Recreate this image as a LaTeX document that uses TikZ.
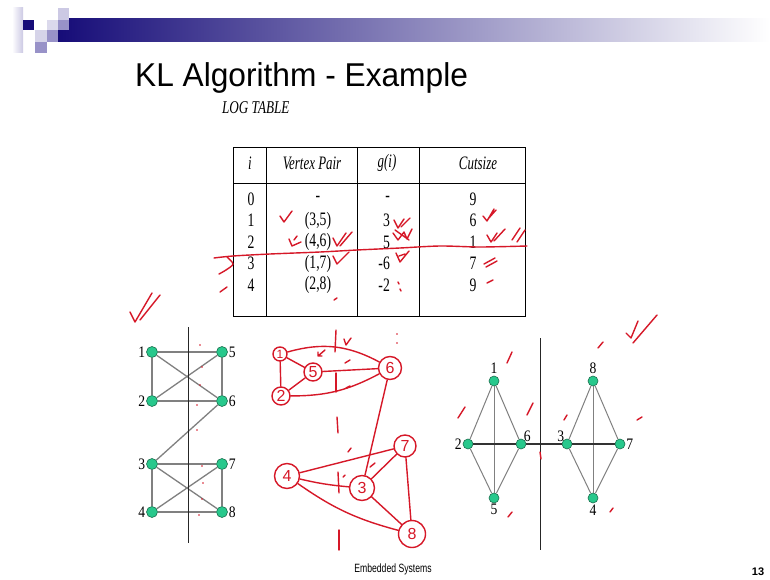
\documentclass[tikz,border=0pt]{standalone}
\usepackage{fontspec}
\setmainfont{Liberation Serif}
\setsansfont{Liberation Sans}
\usetikzlibrary{positioning,calc}
\definecolor{barnavy}{RGB}{22,12,120}
\definecolor{lilac}{RGB}{204,201,228}
\definecolor{mauve}{RGB}{152,146,200}
\definecolor{mint}{RGB}{40,200,140}
\definecolor{pine}{RGB}{28,112,78}
\definecolor{ink}{RGB}{214,24,40}
\definecolor{edgegray}{RGB}{128,128,128}

\tikzset{
  vtx/.style={circle,fill=mint,draw=pine,line width=0.6pt,minimum size=11pt,inner sep=0pt},
  vlab/.style={font=\fontsize{16}{16}\selectfont,xscale=.85,inner sep=1pt},
  gedge/.style={edgegray,line width=1.3pt},
  cutline/.style={black!85,line width=0.9pt},
  pen/.style={ink,line width=1.4pt,line cap=round,line join=round},
  hvtx/.style={circle,draw=ink,line width=1.4pt,text=ink,inner sep=0pt,
    font=\fontsize{16}{16}\selectfont\sffamily},
  cell/.style={font=\fontsize{19}{19}\selectfont,xscale=.72,inner sep=0pt},
  head/.style={font=\fontsize{19}{19}\selectfont\itshape,xscale=.68,inner sep=0pt},
}

\begin{document}
\begin{tikzpicture}[x=1pt,y=-1pt]
  \useasboundingbox (0,0) rectangle (770,580);
  \fill[white] (0,0) rectangle (770,580);

  % slide header
  \shade[left color=barnavy,middle color=barnavy!28,right color=white] (58,19) rectangle (770,42);
  \shade[left color=white,right color=lilac] (12,8) rectangle (23,53);
  \fill[barnavy] (23,20) rectangle (34,30);
  \fill[lilac] (58,8) rectangle (69,20);
  \fill[lilac!70] (47,20) rectangle (58,30);
  \fill[mauve] (58,20) rectangle (69,30);
  \fill[lilac!80] (35,30) rectangle (47,42);
  \fill[mauve] (47,30) rectangle (58,42);
  \fill[mauve] (35,42) rectangle (47,53);

  \node[anchor=base west,font=\fontsize{33}{33}\selectfont\sffamily,xscale=.96,inner sep=0pt]
    (title) at (135,87) {KL Algorithm - Example};
  \node[anchor=base west,font=\fontsize{18}{18}\selectfont\itshape,xscale=.73,inner sep=0pt]
    (logtab) at (222,114) {LOG TABLE};

  % log table
  \draw[line width=1pt] (233,148) rectangle (525,316);
  \draw[line width=1pt] (233,183) -- (525,183);
  \draw[line width=1pt] (266,148) -- (266,316);
  \draw[line width=1pt] (357,148) -- (357,316);
  \draw[line width=1pt] (419,148) -- (419,316);
  \node[head] (hi) at (250,163) {i};
  \node[head] (hpair) at (312,163) {Vertex Pair};
  \node[head] (hgain) at (387,163) {g(i)};
  \node[head] (hcut) at (478,163) {Cutsize};
  \foreach \r/\pair/\gain/\cut [count=\k from 0] in {0/-/-/9, 1/{(3,5)}/3/6, 2/{(4,6)}/5/1, 3/{(1,7)}/-6/7, 4/{(2,8)}/-2/9}{
    \node[cell] (idx\k) at (251,199+21.5*\k) {\r};
    \node[cell] (pair\k) at (318,199+21.5*\k) {\pair};
    \node[cell,anchor=east] (gain\k) at (390,199+21.5*\k) {\gain};
    \node[cell] (cut\k) at (473,199+21.5*\k) {\cut};
  }

  % initial partition
  \node[vtx] (l1) at (152,352) {};
  \node[vtx] (l5) at (222,352) {};
  \node[vtx] (l2) at (152,401) {};
  \node[vtx] (l6) at (222,401) {};
  \node[vtx] (l3) at (152,464) {};
  \node[vtx] (l7) at (222,464) {};
  \node[vtx] (l4) at (152,512) {};
  \node[vtx] (l8) at (222,512) {};
  \foreach \v in {1,2,3,4} \node[vlab,left=0pt of l\v] (l\v lab) {\v};
  \foreach \v in {5,6,7,8} \node[vlab,right=0pt of l\v] (l\v lab) {\v};
  \draw[gedge] (l1) -- (l5);
  \draw[gedge] (l1) -- (l2);
  \draw[gedge] (l5) -- (l6);
  \draw[gedge] (l2) -- (l6);
  \draw[gedge] (l1) -- (l6);
  \draw[gedge] (l2) -- (l5);
  \draw[gedge] (l6) -- (l3);
  \draw[gedge] (l3) -- (l7);
  \draw[gedge] (l3) -- (l4);
  \draw[gedge] (l7) -- (l8);
  \draw[gedge] (l4) -- (l8);
  \draw[gedge] (l3) -- (l8);
  \draw[gedge] (l4) -- (l7);
  \draw[cutline] (188,327) -- (188,543);
  \foreach \p in {(200,345),(202,367),(200,385),(197,405),(197,430),(202,466),(203,483),(202,499),(199,515)}
    \fill[ink] \p circle (0.9pt);

  % hand drawn graph
  \node[hvtx,minimum size=14pt,font=\fontsize{12}{12}\selectfont\sffamily] (h1) at (280,354) {1};
  \node[hvtx,minimum size=18pt] (h5) at (313,372) {5};
  \node[hvtx,minimum size=18pt] (h2) at (281,396) {2};
  \node[hvtx,minimum size=23pt] (h6) at (390,368) {6};
  \node[hvtx,minimum size=25pt] (h4) at (287,476) {4};
  \node[hvtx,minimum size=22pt] (h7) at (405,446) {7};
  \node[hvtx,minimum size=25pt] (h3) at (362,488) {3};
  \node[hvtx,minimum size=27pt] (h8) at (412,534) {8};
  \draw[pen] (h1) to[bend left=22] (h6);
  \draw[pen] (h1) -- (h5);
  \draw[pen] (h1) -- (h2);
  \draw[pen] (h2) -- (h5);
  \draw[pen] (h5) -- (h6);
  \draw[pen] (h2) to[bend right=14] (h6);
  \draw[pen] (h6) -- (h3);
  \draw[pen] (h4) -- (h7);
  \draw[pen] (h4) to[bend right=4] (h3);
  \draw[pen] (h4) to[bend right=10] (h8);
  \draw[pen] (h3) -- (h7);
  \draw[pen] (h7) -- (h8);
  \draw[pen] (h3) -- (h8);
  \draw[pen] (336,330) -- (335,352);
  \draw[pen] (336,373) -- (336,392);
  \draw[pen] (337,417) -- (338,433);
  \draw[pen] (338,472) -- (339,493);
  \draw[pen] (339,530) -- (339,550);
  \draw[pen] (344,339) -- (346,345) -- (351,338);
  \draw[pen] (325,350) -- (318,356) (318,356) -- (318,352) (318,356) -- (322,356);
  \draw[pen] (345,363) -- (350,360);
  \draw[pen] (346,388) -- (350,386);
  \draw[pen] (348,452) -- (351,448);
  \draw[pen] (343,477) -- (345,475);
  \draw[pen] (370,467) -- (375,463);
  \fill[ink] (397,334) circle (0.9pt) (397,343) circle (0.9pt);

  % final partition
  \node[vtx,minimum size=10pt] (r1) at (494,381) {};
  \node[vtx,minimum size=10pt] (r2) at (468,444) {};
  \node[vtx,minimum size=10pt] (r6) at (521,444) {};
  \node[vtx,minimum size=10pt] (r5) at (494,498) {};
  \node[vtx,minimum size=10pt] (r8) at (593,381) {};
  \node[vtx,minimum size=10pt] (r3) at (567,444) {};
  \node[vtx,minimum size=10pt] (r7) at (620,444) {};
  \node[vtx,minimum size=10pt] (r4) at (593,498) {};
  \node[vlab,above=1pt of r1] (r1lab) {1};
  \node[vlab,left=0pt of r2] (r2lab) {2};
  \node[vlab,above right=-3pt and -2pt of r6] (r6lab) {6};
  \node[vlab,below=0pt of r5] (r5lab) {5};
  \node[vlab,above=1pt of r8] (r8lab) {8};
  \node[vlab,above left=-3pt and -2pt of r3] (r3lab) {3};
  \node[vlab,right=0pt of r7] (r7lab) {7};
  \node[vlab,below=0pt of r4] (r4lab) {4};
  \draw[gedge,line width=1pt] (r1) -- (r2);
  \draw[gedge,line width=1pt] (r1) -- (r6);
  \draw[gedge,line width=1pt] (r1) -- (r5);
  \draw[gedge,line width=1pt] (r2) -- (r5);
  \draw[gedge,line width=1pt] (r6) -- (r5);
  \draw[gedge,line width=1pt] (r8) -- (r3);
  \draw[gedge,line width=1pt] (r8) -- (r7);
  \draw[gedge,line width=1pt] (r8) -- (r4);
  \draw[gedge,line width=1pt] (r3) -- (r4);
  \draw[gedge,line width=1pt] (r7) -- (r4);
  \draw[black!80,line width=1.1pt] (r2) -- (r6);
  \draw[black!80,line width=1.1pt] (r6) -- (r3);
  \draw[black!80,line width=1.1pt] (r3) -- (r7);
  \draw[cutline] (540,338) -- (540,550);
  \draw[pen] (507,363) -- (512,352);
  \draw[pen] (458,418) -- (465,407);
  \draw[pen] (527,415) -- (533,403);
  \draw[pen] (564,420) -- (567,415);
  \draw[pen] (637,420) -- (642,417);
  \draw[pen] (540,452) -- (541,459);
  \draw[pen] (508,517) -- (512,512);
  \draw[pen] (610,512) -- (613,508);
  \draw[pen] (598,348) -- (603,342);

  % marks on the log table
  \draw[pen] plot[smooth] coordinates {(214,258) (233,256) (270,254) (320,252) (357,250) (400,248) (440,246) (480,247) (527,246)};
  \draw[pen] plot[smooth] coordinates {(227,257) (233,264) (226,270) (219,274)};
  \draw[pen] (220,292) -- (227,287);
  \draw[pen] (280,216) -- (284,222) -- (292,211);
  \draw[pen] (289,239) -- (292,246) -- (301,242) (294,240) -- (297,236);
  \draw[pen] (333,238) -- (337,246) -- (346,233) (340,246) -- (352,232);
  \draw[pen] (333,256) -- (337,264) -- (349,252);
  \draw[pen] (394,220) -- (398,228) -- (404,219) (401,227) -- (410,218);
  \draw[pen] (393,233) -- (398,240) -- (404,232) -- (407,239) -- (412,229) (395,230) -- (409,240);
  \draw[pen] (396,253) -- (400,262) -- (409,251) (399,256) -- (405,254);
  \draw[pen] (398,282) -- (399,284) (400,289) -- (401,291);
  \draw[pen] (483,216) -- (487,221) -- (494,209) (488,219) -- (496,210);
  \draw[pen] (487,235) -- (491,242) -- (497,233) (494,241) -- (505,229);
  \draw[pen] (512,240) -- (520,228) (517,242) -- (525,230);
  \draw[pen] (484,264) -- (495,258) (486,267) -- (497,261);
  \draw[pen] (487,283) -- (493,280);
  \draw[pen] (334,300) -- (337,298);
  \draw[pen] (130,312) -- (135,322) -- (152,293) (140,320) -- (160,295);
  \draw[pen] (626,333) -- (631,338) -- (638,321) (633,343) -- (657,315);

  % footer
  \node[font=\fontsize{12}{12}\selectfont\sffamily,xscale=.72] (foot) at (393,569) {Embedded Systems};
  \node[font=\fontsize{11}{11}\selectfont\sffamily\bfseries] (pageno) at (758,572) {13};
\end{tikzpicture}
\end{document}
